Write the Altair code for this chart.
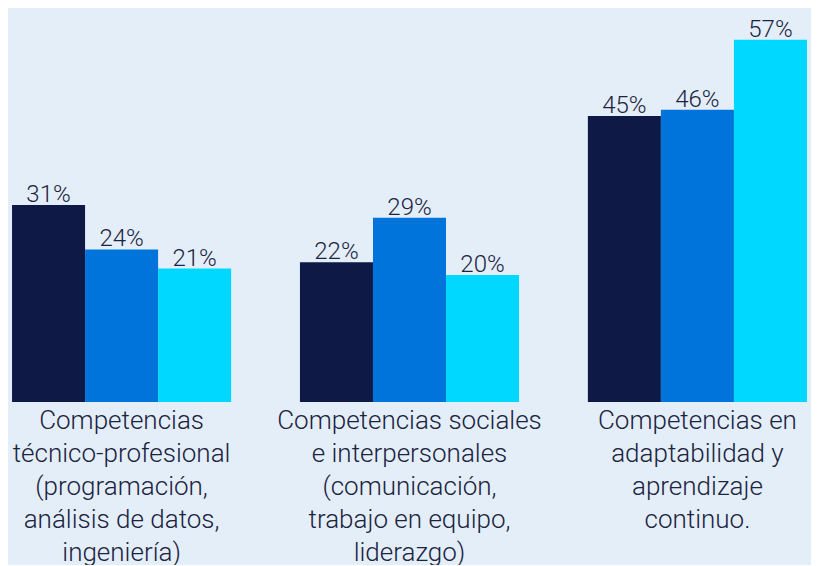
import altair as alt
import pandas as pd

groups = [
    "Competencias|técnico-profesional|(programación,|análisis de datos,|ingeniería)",
    "Competencias sociales|e interpersonales|(comunicación,|trabajo en equipo,|liderazgo)",
    "Competencias en|adaptabilidad y|aprendizaje|continuo.",
]
series = ["A", "B", "C"]
values = {
    "A": [31, 22, 45],
    "B": [24, 29, 46],
    "C": [21, 20, 57],
}
colors = ["#0E1A45", "#0074DB", "#00D8FF"]

rows = []
for s in series:
    for g, v in zip(groups, values[s]):
        rows.append({"group": g, "series": s, "value": v, "label": f"{v}%"})
df = pd.DataFrame(rows)

x = alt.X(
    "group:N",
    sort=groups,
    scale=alt.Scale(paddingInner=0.239, paddingOuter=0.014),
    axis=alt.Axis(
        title=None, domain=False, ticks=False, labelAngle=0,
        labelExpr="split(datum.label, '|')",
        labelFont="Roboto", labelFontSize=26, labelFontWeight=300,
        labelColor="#1B2340",
        labelLineHeight=33, labelPadding=5, labelLimit=0,
        labelBaseline="top",
    ),
)
xo = alt.XOffset("series:N", sort=series, scale=alt.Scale(paddingInner=0, paddingOuter=0))
y = alt.Y("value:Q", scale=alt.Scale(domain=[0, 62], nice=False), axis=None)

base = alt.Chart(df).encode(x=x, xOffset=xo, y=y)

bars = base.mark_bar().encode(
    color=alt.Color("series:N", sort=series, scale=alt.Scale(domain=series, range=colors), legend=None)
)
text = base.mark_text(
    font="Roboto", fontSize=24, fontWeight=300, color="#1B2340",
    baseline="alphabetic", dy=-3
).encode(text="label:N")

chart = (
    (bars + text)
    .properties(width=803, height=394, background="#E3EEF9", padding=0)
    .configure_view(stroke=None)
)
chart.save("out.html", embed_options={"renderer": "svg", "actions": False})
